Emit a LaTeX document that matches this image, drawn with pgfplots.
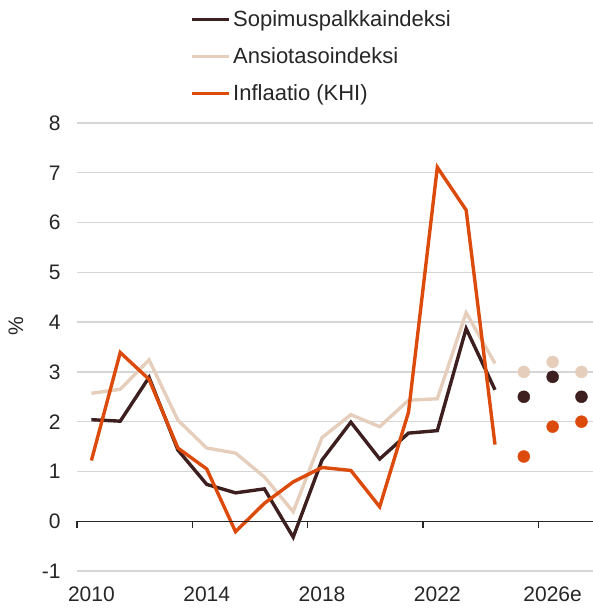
\documentclass[border=0pt]{standalone}
\usepackage{pgfplots}
\pgfplotsset{compat=1.18}
\usepackage{fontspec}
\setmainfont{Liberation Sans}
\definecolor{sop}{HTML}{3D1F1F}
\definecolor{ans}{HTML}{E5CFBC}
\definecolor{inf}{HTML}{DC4A0C}
\definecolor{gridc}{HTML}{D6D6D6}
\definecolor{txt}{HTML}{262626}
\begin{document}
\begin{tikzpicture}
\path[use as bounding box] (-77pt,-43pt) rectangle (516pt,571pt);
\begin{axis}[
  at={(0pt,0pt)}, anchor=south west,
  scale only axis, width=516pt, height=448pt,
  xmin=2009.5, xmax=2027.4, ymin=-1, ymax=8,
  axis line style={draw=none},
  xtick={2010,2014,2018,2022,2026},
  xticklabels={2010,2014,2018,2022,2026e},
  ytick={-1,0,1,2,3,4,5,6,7,8},
  major tick length=0pt,
  ymajorgrids, grid style={gridc, line width=1.3pt},
  tick label style={font=\fontsize{21}{25}\selectfont, text=txt},
  /pgf/number format/assume math mode=true,
  xticklabel style={yshift=-12.7pt},
  yticklabel style={xshift=-12.8pt},
  ylabel={\%},
  every axis y label/.style={at={([xshift=-61pt]axis description cs:0,0.547)}, rotate=90, anchor=center, font=\fontsize{21}{25}\selectfont, text=txt},
  legend style={at={(axis description cs:0.22,1.256)}, anchor=north west, draw=none, fill=none,
    font=\fontsize{22}{26}\selectfont, text=txt, inner sep=0pt, row sep=15.5pt,
    nodes={inner xsep=2.5pt}},
  legend cell align=left,
  legend image code/.code={\draw[#1, line width=3pt] (0pt,0pt) -- (37pt,0pt);},
  clip=false,
]
% Ansiotasoindeksi (drawn first, below)
\addplot[ans, line width=3.4pt, forget plot] coordinates {
(2010,2.57) (2011,2.65) (2012,3.24) (2013,2.03) (2014,1.47) (2015,1.37) (2016,0.89)
(2017,0.19) (2018,1.68) (2019,2.14) (2020,1.90) (2021,2.43) (2022,2.46) (2023,4.19) (2024,3.17)};
% Sopimuspalkkaindeksi
\addplot[sop, line width=3.4pt] coordinates {
(2010,2.04) (2011,2.01) (2012,2.89) (2013,1.43) (2014,0.74) (2015,0.57) (2016,0.65)
(2017,-0.32) (2018,1.23) (2019,1.99) (2020,1.25) (2021,1.77) (2022,1.82) (2023,3.87) (2024,2.64)};
\addlegendentry{Sopimuspalkkaindeksi}
\addlegendimage{ans, line width=3pt}
\addlegendentry{Ansiotasoindeksi}
% Inflaatio
\addplot[inf, line width=3.4pt] coordinates {
(2010,1.22) (2011,3.39) (2012,2.85) (2013,1.47) (2014,1.05) (2015,-0.21) (2016,0.36)
(2017,0.79) (2018,1.08) (2019,1.02) (2020,0.29) (2021,2.19) (2022,7.11) (2023,6.25) (2024,1.54)};
\addlegendentry{Inflaatio (KHI)}
% forecasts
\addplot[only marks, mark=*, mark size=6pt, ans, forget plot] coordinates {(2025,3.0) (2026,3.2) (2027,3.0)};
\addplot[only marks, mark=*, mark size=6pt, sop, forget plot] coordinates {(2025,2.5) (2026,2.9) (2027,2.5)};
\addplot[only marks, mark=*, mark size=6pt, inf, forget plot] coordinates {(2025,1.3) (2026,1.9) (2027,2.0)};
% zero axis line and ticks
\draw[txt, line width=1.3pt] (axis cs:2009.5,0) -- (axis cs:2027.4,0);
\pgfplotsinvokeforeach{2009.5,2013.5,2017.5,2021.5,2025.5}{
  \draw[txt, line width=1.2pt] (axis cs:#1,0) -- ([yshift=-7pt]axis cs:#1,0);
}
\end{axis}
\end{tikzpicture}
\end{document}
